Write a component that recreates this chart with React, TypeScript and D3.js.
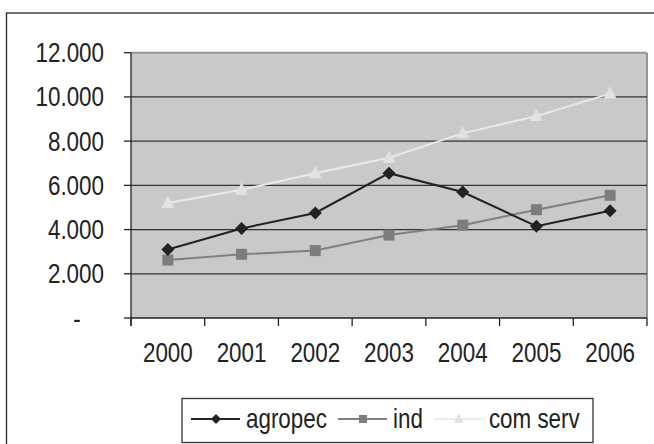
import React from 'react'
import * as d3 from 'd3'

const years = ['2000', '2001', '2002', '2003', '2004', '2005', '2006']
const agropec = [3100, 4050, 4750, 6550, 5700, 4150, 4850]
const ind = [2620, 2880, 3050, 3750, 4200, 4900, 5550]
const comServ = [5200, 5800, 6550, 7250, 8350, 9130, 10150]
const yTicks = [0, 2000, 4000, 6000, 8000, 10000, 12000]
const yTickLabels = ['-', '2.000', '4.000', '6.000', '8.000', '10.000', '12.000']

const W = 654
const H = 444
const FONT = "'Liberation Sans', Arial, sans-serif"
const FS = 27
const SX = 0.83
const TEXT = '#222'

const series = [
  { name: 'agropec', values: agropec, color: '#222222', marker: 'diamond', mcolor: '#222222' },
  { name: 'ind', values: ind, color: '#808080', marker: 'square', mcolor: '#7d7d7d' },
  { name: 'com serv', values: comServ, color: '#eaeaea', marker: 'triangle', mcolor: '#e2e2e2' },
]

function measure(txt: string) {
  const c = document.createElement('canvas').getContext('2d')
  if (!c) return txt.length * 12
  c.font = `${FS}px ${FONT}`
  return c.measureText(txt).width * SX
}

function Marker({ type, x, y, size, fill }: { type: string; x: number; y: number; size: number; fill: string }) {
  if (type === 'diamond') {
    const r = size / 2
    return <path d={`M${x},${y - r}L${x + r},${y}L${x},${y + r}L${x - r},${y}Z`} fill={fill} />
  }
  if (type === 'square') {
    return <rect x={x - size / 2} y={y - size / 2} width={size} height={size} fill={fill} />
  }
  const h = size * 0.95
  return (
    <path d={`M${x},${y - h * 0.6}L${x + size / 2},${y + h * 0.4}L${x - size / 2},${y + h * 0.4}Z`} fill={fill} />
  )
}

function Label({ x, y, text, anchor }: { x: number; y: number; text: string; anchor: string }) {
  return (
    <g transform={`translate(${x},${y}) scale(${SX},1)`}>
      <text textAnchor={anchor} fontFamily={FONT} fontSize={FS} fill={TEXT}>
        {text}
      </text>
    </g>
  )
}

export default function App() {
  const plot = { left: 131, right: 647, top: 52.7, bottom: 318 }
  const x = d3.scaleBand().domain(years).range([plot.left, plot.right])
  const y = d3.scaleLinear().domain([0, 12000]).range([plot.bottom, plot.top])
  const cx = (d: string) => (x(d) as number) + x.bandwidth() / 2

  const line = d3
    .line<number>()
    .x((_, i) => cx(years[i]))
    .y((v) => y(v))

  // legend layout
  const legY = 419
  let lx = 191
  const legendItems = series.map((s) => {
    const item = { ...s, x0: lx, tx: lx + 55 }
    lx = item.tx + measure(s.name) + 11
    return item
  })

  const markerSize = (m: string) => (m === 'triangle' ? 13 : m === 'diamond' ? 13 : 11)
  const legendMarkerSize = (m: string) => (m === 'triangle' ? 10 : m === 'diamond' ? 10 : 8)

  return (
    <svg width={W} height={H} style={{ position: 'absolute', left: 0, top: 0, background: '#fff' }}>
      <rect x={6.5} y={13} width={W + 10} height={H + 10} fill="#fff" stroke="#333" strokeWidth={1.4} />

      {/* plot area */}
      <rect
        x={plot.left}
        y={plot.top}
        width={plot.right - plot.left}
        height={plot.bottom - plot.top}
        fill="#c8c9cb"
      />
      <line x1={plot.left} x2={plot.right} y1={plot.top} y2={plot.top} stroke="#959595" strokeWidth={2} />
      <line x1={plot.right} x2={plot.right} y1={plot.top} y2={plot.bottom} stroke="#959595" strokeWidth={2} />

      {yTicks.slice(1, -1).map((t) => (
        <line key={t} x1={plot.left} x2={plot.right} y1={y(t)} y2={y(t)} stroke="#333" strokeWidth={1.3} />
      ))}

      {/* y axis */}
      <line x1={plot.left} x2={plot.left} y1={plot.top} y2={plot.bottom + 8} stroke="#222" strokeWidth={1.3} />
      {yTicks.map((t, i) => (
        <g key={t}>
          <line x1={plot.left - 7} x2={plot.left} y1={y(t)} y2={y(t)} stroke="#222" strokeWidth={1.3} />
          {yTickLabels[i] === '-' ? (
            <Label x={77} y={y(t) + 9.5} text={yTickLabels[i]} anchor="middle" />
          ) : (
            <Label x={104} y={y(t) + 9.5} text={yTickLabels[i]} anchor="end" />
          )}
        </g>
      ))}

      {/* x axis */}
      <line x1={plot.left} x2={plot.right} y1={plot.bottom} y2={plot.bottom} stroke="#222" strokeWidth={1.3} />
      {years.concat(['end']).map((d, i) => {
        const xx = i < years.length ? (x(d) as number) : plot.right
        return <line key={d} x1={xx} x2={xx} y1={plot.bottom} y2={plot.bottom + 8} stroke="#222" strokeWidth={1.3} />
      })}
      {years.map((d) => (
        <Label key={d} x={cx(d)} y={362} text={d} anchor="middle" />
      ))}

      {/* series, drawn back to front */}
      {[...series].reverse().map((s) => (
        <g key={s.name}>
          <path d={line(s.values) || ''} fill="none" stroke={s.color} strokeWidth={2} />
          {s.values.map((v, i) => (
            <Marker key={i} type={s.marker} x={cx(years[i])} y={y(v)} size={markerSize(s.marker)} fill={s.mcolor} />
          ))}
        </g>
      ))}

      {/* legend */}
      <rect x={182} y={398.5} width={411} height={44} fill="#fff" stroke="#333" strokeWidth={1.3} />
      {legendItems.map((s) => (
        <g key={s.name}>
          <line x1={s.x0} x2={s.x0 + 49} y1={legY} y2={legY} stroke={s.color} strokeWidth={1.8} />
          <Marker type={s.marker} x={s.x0 + 25} y={legY} size={legendMarkerSize(s.marker)} fill={s.mcolor} />
          <Label x={s.tx} y={legY + 9} text={s.name} anchor="start" />
        </g>
      ))}
    </svg>
  )
}
